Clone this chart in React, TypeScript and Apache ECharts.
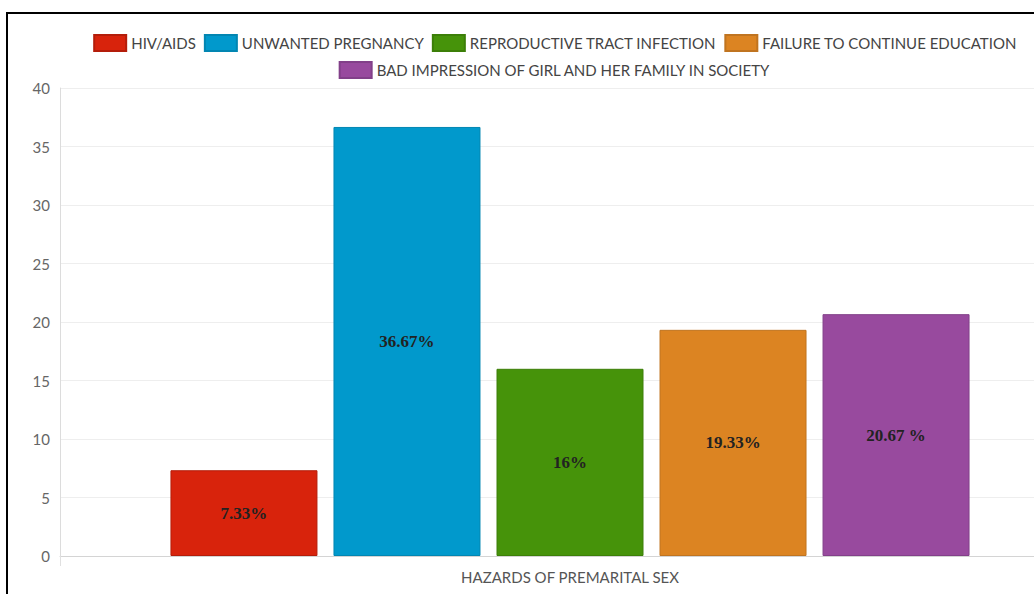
import React, { useEffect, useRef } from "react";
import * as echarts from "echarts";

const category = ["HAZARDS OF PREMARITAL SEX"];
const seriesNames = [
  "HIV/AIDS",
  "UNWANTED PREGNANCY",
  "REPRODUCTIVE TRACT INFECTION",
  "FAILURE TO CONTINUE EDUCATION",
  "BAD IMPRESSION OF GIRL AND HER FAMILY IN SOCIETY",
];
const seriesValues = [7.33, 36.67, 16, 19.33, 20.67];
const seriesLabels = ["7.33%", "36.67%", "16%", "19.33%", "20.67 %"];
const seriesColors = ["#d8230c", "#0199cc", "#46930a", "#dc8422", "#984a9e"];
const seriesBorders = ["#b41d0a", "#0286b2", "#3c7f08", "#c07420", "#824089"];
const yTicks = [0, 5, 10, 15, 20, 25, 30, 35, 40];

export default function App() {
  const ref = useRef<HTMLDivElement>(null);

  useEffect(() => {
    if (!ref.current) return;
    const chart = echarts.init(ref.current, null, { renderer: "svg" });

    const legendText = {
      fontFamily: "Lato",
      fontSize: 15,
      color: "#444",
    };

    chart.setOption({
      animation: false,
      backgroundColor: "#ffffff",
      legend: [
        {
          data: seriesNames.slice(0, 4),
          top: 29,
          left: "center",
          itemWidth: 32,
          itemHeight: 16,
          itemGap: 8,
          textStyle: legendText,
          icon: "rect",
        },
        {
          data: seriesNames.slice(4),
          top: 56,
          left: "center",
          itemWidth: 32,
          itemHeight: 16,
          itemGap: 8,
          textStyle: legendText,
          icon: "rect",
        },
      ],
      grid: { left: 60, right: 30, top: 88, bottom: 38 },
      xAxis: {
        type: "category",
        data: category,
        axisLine: { lineStyle: { color: "#d4d4d4" } },
        axisTick: { show: true, length: 10, lineStyle: { color: "#e0e0e0" } },
        axisLabel: {
          fontFamily: "Lato",
          fontSize: 15,
          color: "#555",
          margin: 13,
        },
      },
      yAxis: {
        type: "value",
        min: yTicks[0],
        max: yTicks[yTicks.length - 1],
        interval: 5,
        axisLine: { show: true, lineStyle: { color: "#dcdcdc" } },
        axisTick: { show: false },
        axisLabel: {
          fontFamily: "Lato",
          fontSize: 15,
          color: "#666",
          margin: 10,
        },
        splitLine: { lineStyle: { color: "#eeeeee" } },
      },
      graphic: [
        {
          type: "rect",
          shape: { x: 7, y: 13, width: 1200, height: 700 },
          style: { fill: "none", stroke: "#000", lineWidth: 2 },
          silent: true,
          z: 100,
        },
      ],
      series: seriesNames.map((name, i) => ({
        name,
        type: "bar",
        data: [seriesValues[i]],
        barWidth: 147,
        barGap: "10.9%",
        itemStyle: {
          color: seriesColors[i],
          borderColor: seriesBorders[i],
          borderWidth: 1,
        },
        label: {
          show: true,
          position: "inside",
          formatter: seriesLabels[i],
          fontFamily: "Liberation Serif",
          fontWeight: "bold",
          fontSize: 17,
          color: "#222",
        },
      })),
    });

    return () => chart.dispose();
  }, []);

  return (
    <div
      style={{
        position: "fixed",
        left: 0,
        top: 0,
        width: 1034,
        height: 594,
        overflow: "hidden",
        background: "#fff",
      }}
    >
      <div ref={ref} style={{ width: 1110, height: 594 }} />
    </div>
  );
}
